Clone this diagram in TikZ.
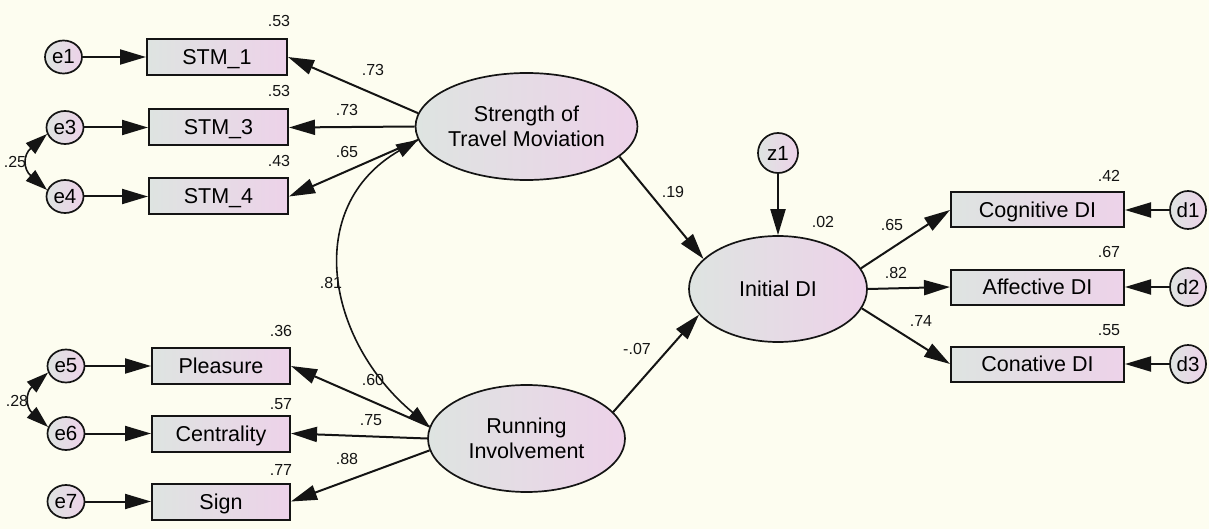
\documentclass[tikz,border=0pt]{standalone}
\usepackage{fontspec}
\setmainfont{Liberation Sans}
\usetikzlibrary{arrows.meta,shapes.geometric}

\definecolor{paper}{RGB}{253,253,240}
\definecolor{shadeL}{RGB}{222,228,225}
\definecolor{shadeR}{RGB}{237,210,233}
\definecolor{ink}{RGB}{20,20,20}

\tikzset{
  obs/.style={rectangle, draw=ink, line width=2pt, left color=shadeL, right color=shadeR,
    minimum width=139pt, minimum height=36pt, inner sep=0pt,
    text height=18pt, text depth=3pt, font=\fontsize{21.5}{25}\selectfont},
  obsw/.style={obs, minimum width=173pt, minimum height=35pt},
  lat/.style={ellipse, draw=ink, line width=1.7pt, left color=shadeL, right color=shadeR,
    minimum width=197pt, minimum height=107pt, inner sep=0pt, align=center,
    font=\fontsize{21.5}{25.5}\selectfont},
  err/.style={ellipse, draw=ink, line width=1.7pt, left color=shadeL, right color=shadeR,
    minimum width=37pt, minimum height=33pt, inner sep=0pt,
    font=\fontsize{20.5}{24}\selectfont},
  est/.style={inner sep=0pt, text=ink, font=\fontsize{16}{18}\selectfont},
  reg/.style={draw=ink, line width=2pt, -{Triangle[length=26pt,width=15pt]}},
  cov/.style={draw=ink, line width=1.6pt,
    {Triangle[length=22pt,width=14pt]}-{Triangle[length=22pt,width=14pt]}},
}

\begin{document}
\begin{tikzpicture}[x=1pt,y=-1pt]
\fill[paper] (0,0) rectangle (1209,529);
\useasboundingbox (0,0) rectangle (1209,529);

% observed indicators
\node[obs, minimum width=140pt] (stm1) at (217,57) {STM\_1};
\node[obs] (stm3) at (218.5,127.5) {STM\_3};
\node[obs] (stm4) at (218.5,196.5) {STM\_4};
\node[obs, minimum width=138pt] (plea) at (221,366) {Pleasure};
\node[obs, minimum width=138pt] (cent) at (221,433.5) {Centrality};
\node[obs, minimum width=138pt] (sign) at (221,501.5) {Sign};
\node[obsw] (cog) at (1037.5,210) {Cognitive DI};
\node[obsw] (aff) at (1037.5,287) {Affective DI};
\node[obsw] (con) at (1037.5,364) {Conative DI};

% latent variables
\node[lat] (stm) at (526.5,126.5) {Strength of\\Travel Moviation};
\node[lat] (run) at (526.5,438.5) {Running\\Involvement};
\node[lat, minimum width=178pt, minimum height=106pt] (idi) at (778,289) {Initial DI};

% error terms
\node[err] (e1) at (63.5,57) {e1};
\node[err] (e3) at (65,127.5) {e3};
\node[err] (e4) at (65,196.5) {e4};
\node[err] (e5) at (66,366) {e5};
\node[err] (e6) at (66,433.5) {e6};
\node[err] (e7) at (66,501.5) {e7};
\node[err, minimum width=40pt, minimum height=40pt] (z1) at (778,153) {z1};
\node[err, minimum width=36pt, minimum height=38pt] (d1) at (1188,210) {d1};
\node[err, minimum width=36pt, minimum height=38pt] (d2) at (1188,287) {d2};
\node[err, minimum width=36pt, minimum height=38pt] (d3) at (1188,364) {d3};

% error paths
\draw[reg] (e1) -- (stm1);
\draw[reg] (e3) -- (stm3);
\draw[reg] (e4) -- (stm4);
\draw[reg] (e5) -- (plea);
\draw[reg] (e6) -- (cent);
\draw[reg] (e7) -- (sign);
\draw[reg] (z1) -- (idi);
\draw[reg] (d1) -- (cog);
\draw[reg] (d2) -- (aff);
\draw[reg] (d3) -- (con);

% loadings
\draw[reg] (stm.173) -- (stm1.east);
\draw[reg] (stm.west) -- (stm3.east);
\draw[reg] (stm.187) -- (stm4.east);
\draw[reg] (run.173) -- (plea.east);
\draw[reg] (run.west) -- (cent.east);
\draw[reg] (run.187) -- (sign.east);
\draw[reg] (idi.14) -- (cog.west);
\draw[reg] (idi.east) -- (aff.west);
\draw[reg] (idi.347) -- (con.west);

% structural paths
\draw[reg] (stm.342) -- (idi.158);
\draw[reg] (run.17) -- (idi.198);

% covariances
\draw[cov] (stm.187) .. controls +(-116,67) and +(-103,-86) .. (run.173);
\draw[cov] (e3.200) .. controls +(-24,21) and +(-24,-21) .. (e4.160);
\draw[cov] (e5.200) .. controls +(-22.5,20) and +(-22.5,-20) .. (e6.160);

% estimates
\node[est] (r1) at (279,21) {.53};
\node[est] (r3) at (279,91) {.53};
\node[est] (r4) at (279,161) {.43};
\node[est] (r5) at (281,331) {.36};
\node[est] (r6) at (281,404) {.57};
\node[est] (r7) at (281,470) {.77};
\node[est] (c34) at (15,162) {.25};
\node[est] (c56) at (17,401) {.28};
\node[est] (l1) at (373,70) {.73};
\node[est] (l3) at (347,110) {.73};
\node[est] (l4) at (347,152) {.65};
\node[est] (csr) at (331,283) {.81};
\node[est] (l5) at (373,380) {.60};
\node[est] (l6) at (371,420) {.75};
\node[est] (l7) at (347,459) {.88};
\node[est] (b1) at (673,192) {.19};
\node[est] (b2) at (637,349) {-.07};
\node[est] (ridi) at (823,222) {.02};
\node[est] (l8) at (892,225) {.65};
\node[est] (l9) at (896,273) {.82};
\node[est] (l10) at (921,321) {.74};
\node[est] (rc) at (1109,176) {.42};
\node[est] (ra) at (1109,252) {.67};
\node[est] (rn) at (1109,330) {.55};
\end{tikzpicture}
\end{document}
